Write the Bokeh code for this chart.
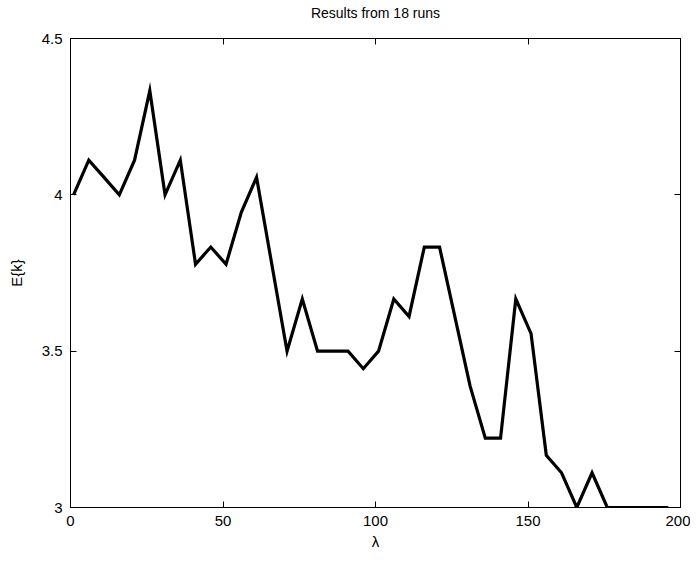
from bokeh.plotting import figure
from bokeh.models import LinearAxis, FixedTicker, CustomJSTickFormatter, Range1d
from bokeh.embed import file_html
from bokeh.resources import INLINE

# data
lam = [1, 6, 11, 16, 21, 26, 31, 36, 41, 46, 51, 56, 61, 66, 71, 76, 81, 86, 91, 96,
       101, 106, 111, 116, 121, 126, 131, 136, 141, 146, 151, 156, 161, 166, 171, 176,
       181, 186, 191, 196]
ek = [4.0, 4.111, 4.056, 4.0, 4.111, 4.333, 4.0, 4.111, 3.778, 3.833, 3.778, 3.944,
      4.056, 3.778, 3.5, 3.667, 3.5, 3.5, 3.5, 3.444, 3.5, 3.667, 3.611, 3.833, 3.833,
      3.611, 3.389, 3.222, 3.222, 3.667, 3.556, 3.167, 3.111, 3.0, 3.111, 3.0,
      3.0, 3.0, 3.0, 3.0]
x_ticks = [0, 50, 100, 150, 200]
y_ticks = [3, 3.5, 4, 4.5]
title_text = "Results from 18 runs"
x_label = "λ"
y_label = "E{k}"

FONT = "Liberation Sans"

p = figure(output_backend="svg", toolbar_location=None,
           frame_width=610, frame_height=469,
           min_border_left=70, min_border_right=10, min_border_top=38, min_border_bottom=46,
           x_range=Range1d(0, 200), y_range=Range1d(3, 4.5),
           x_axis_location=None, y_axis_location=None)

p.grid.visible = False
p.outline_line_color = "black"
p.outline_line_width = 1
p.background_fill_color = "white"
p.border_fill_color = "white"

fmt = CustomJSTickFormatter(code="return String(tick);")

def style_axis(ax, ticks, show_labels):
    ax.ticker = FixedTicker(ticks=ticks)
    ax.formatter = fmt
    ax.major_tick_in = 6
    ax.major_tick_out = 0
    ax.minor_tick_line_color = None
    ax.axis_line_color = "black"
    ax.major_tick_line_color = "black"
    ax.major_label_text_font = FONT
    ax.major_label_text_font_size = "15px"
    ax.major_label_text_color = "black"
    ax.axis_label_text_font = FONT
    ax.axis_label_text_font_size = "15px"
    ax.axis_label_text_font_style = "normal"
    ax.axis_label_text_color = "black"
    if not show_labels:
        ax.major_label_text_font_size = "0px"
        ax.major_label_text_alpha = 0

xb = LinearAxis(axis_label=x_label)
style_axis(xb, x_ticks, True)
xb.major_label_standoff = 8
xb.axis_label_standoff = 4
p.add_layout(xb, "below")

yl = LinearAxis(axis_label=y_label)
style_axis(yl, y_ticks, True)
yl.major_label_standoff = 8
yl.axis_label_standoff = 14
p.add_layout(yl, "left")

# top axis carries the title text as its axis label
xt = LinearAxis(axis_label=title_text)
style_axis(xt, x_ticks, False)
xt.axis_label_text_font_size = "14px"
xt.major_label_standoff = 0
xt.axis_label_standoff = 18
p.add_layout(xt, "above")

yr = LinearAxis()
style_axis(yr, y_ticks, False)
p.add_layout(yr, "right")

p.line(lam, ek, line_color="black", line_width=3.2, line_join="miter")

open("out.html", "w").write(file_html(p, INLINE))
